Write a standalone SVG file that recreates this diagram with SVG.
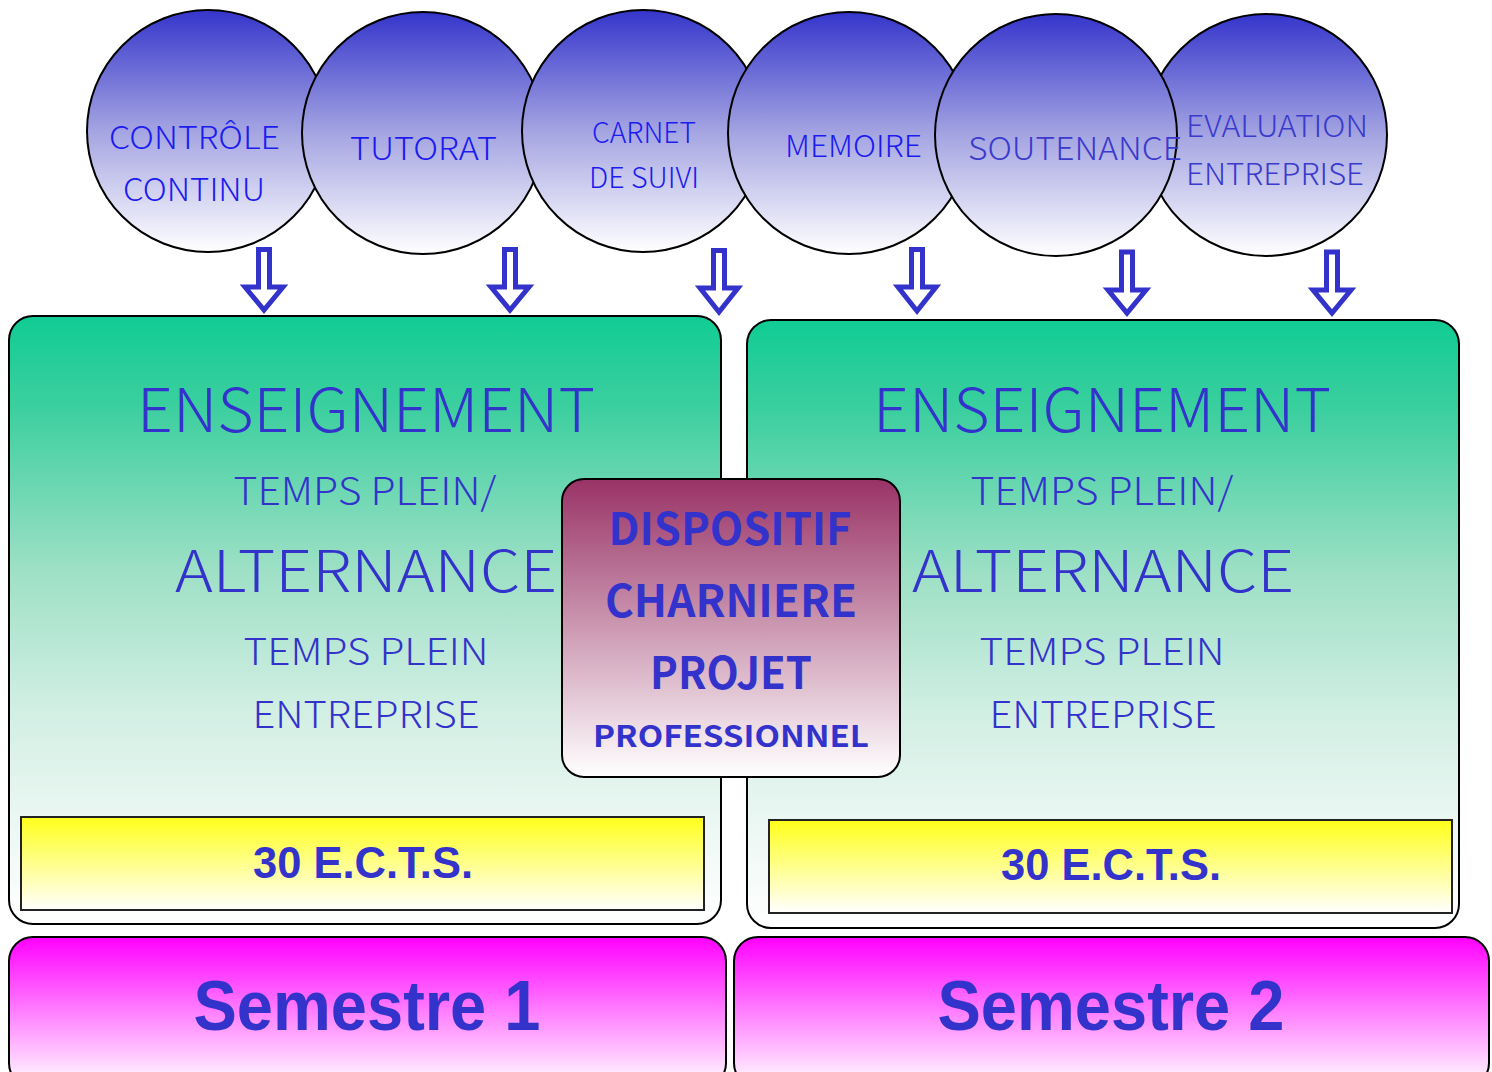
<svg xmlns="http://www.w3.org/2000/svg" width="1492" height="1072" viewBox="0 0 1492 1072">
<defs>
<linearGradient id="gCirc" x1="0" y1="0" x2="0" y2="1"><stop offset="0" stop-color="#3535cc"/><stop offset="0.5" stop-color="#a4a4e2"/><stop offset="1" stop-color="#ffffff"/></linearGradient>
<linearGradient id="gGreen" x1="0" y1="0" x2="0" y2="1"><stop offset="0" stop-color="#10cc94"/><stop offset="0.15" stop-color="#3ccf9f"/><stop offset="0.42" stop-color="#9ee0c6"/><stop offset="0.65" stop-color="#d2efe4"/><stop offset="0.85" stop-color="#eef8f4"/><stop offset="1" stop-color="#ffffff"/></linearGradient>
<linearGradient id="gYellow" x1="0" y1="0" x2="0" y2="1"><stop offset="0" stop-color="#ffff1a"/><stop offset="1" stop-color="#ffffff"/></linearGradient>
<linearGradient id="gMag" x1="0" y1="0" x2="0" y2="1"><stop offset="0" stop-color="#ff00ff"/><stop offset="1" stop-color="#ffffff"/></linearGradient>
<linearGradient id="gMaroon" x1="0" y1="0" x2="0" y2="1"><stop offset="0" stop-color="#993366"/><stop offset="1" stop-color="#ffffff"/></linearGradient>
</defs>
<style>
.circ{fill:url(#gCirc);stroke:#000;stroke-width:2}
.ct{font-family:"Noto Sans CJK JP","Noto Sans",sans-serif;font-weight:300;fill:#1c1cf0;text-anchor:middle}
.ct2{font-family:"Noto Sans CJK JP","Noto Sans",sans-serif;font-weight:300;fill:#3a3acc}
.box{fill:url(#gGreen);stroke:#000;stroke-width:2}
.bt{font-family:"Noto Sans CJK JP","Noto Sans",sans-serif;font-weight:300;fill:#3333cc;text-anchor:middle}
.ects{fill:url(#gYellow);stroke:#222;stroke-width:2}
.et{font-family:"Liberation Sans Narrow","Liberation Sans",sans-serif;font-weight:bold;fill:#3333cc;text-anchor:middle}
.sem{fill:url(#gMag);stroke:#000;stroke-width:2}
.ch{fill:url(#gMaroon);stroke:#000;stroke-width:2}
.cht{font-family:"Noto Sans CJK JP","Noto Sans",sans-serif;font-weight:bold;fill:#3333cc;text-anchor:middle}
.arr{fill:#fff;stroke:#3333cc;stroke-width:5;stroke-linejoin:miter}
</style>
<rect width="1492" height="1072" fill="#fff"/>

<g id="semestre1">
<rect class="sem" x="9" y="937" width="717" height="150" rx="24"/>
<text class="et" x="367" y="1030" font-size="70" textLength="347" lengthAdjust="spacingAndGlyphs">Semestre 1</text>
</g>
<g id="semestre2">
<rect class="sem" x="734" y="937" width="755" height="150" rx="24"/>
<text class="et" x="1111" y="1030" font-size="70" textLength="347" lengthAdjust="spacingAndGlyphs">Semestre 2</text>
</g>

<g id="enseignement1">
<rect class="box" x="9" y="316" width="712" height="608" rx="24"/>
<text class="bt" x="366" y="432" font-size="60" textLength="458" lengthAdjust="spacingAndGlyphs">ENSEIGNEMENT</text>
<text class="bt" x="365" y="505" font-size="38" textLength="263" lengthAdjust="spacingAndGlyphs">TEMPS PLEIN/</text>
<text class="bt" x="366" y="592" font-size="57" textLength="382" lengthAdjust="spacingAndGlyphs">ALTERNANCE</text>
<text class="bt" x="366" y="665" font-size="37" textLength="245" lengthAdjust="spacingAndGlyphs">TEMPS PLEIN</text>
<text class="bt" x="366" y="728" font-size="37" textLength="227" lengthAdjust="spacingAndGlyphs">ENTREPRISE</text>
</g>
<g id="ects1">
<rect class="ects" x="21" y="817" width="683" height="93"/>
<text class="et" x="363" y="878" font-size="44" textLength="220" lengthAdjust="spacingAndGlyphs">30 E.C.T.S.</text>
</g>

<g id="enseignement2">
<rect class="box" x="747" y="320" width="712" height="608" rx="24"/>
<text class="bt" x="1102" y="432" font-size="60" textLength="458" lengthAdjust="spacingAndGlyphs">ENSEIGNEMENT</text>
<text class="bt" x="1102" y="505" font-size="38" textLength="263" lengthAdjust="spacingAndGlyphs">TEMPS PLEIN/</text>
<text class="bt" x="1103" y="592" font-size="57" textLength="382" lengthAdjust="spacingAndGlyphs">ALTERNANCE</text>
<text class="bt" x="1102" y="665" font-size="37" textLength="245" lengthAdjust="spacingAndGlyphs">TEMPS PLEIN</text>
<text class="bt" x="1103" y="728" font-size="37" textLength="227" lengthAdjust="spacingAndGlyphs">ENTREPRISE</text>
</g>
<g id="ects2">
<rect class="ects" x="769" y="820" width="683" height="93"/>
<text class="et" x="1111" y="880" font-size="44" textLength="220" lengthAdjust="spacingAndGlyphs">30 E.C.T.S.</text>
</g>

<g id="charniere">
<rect class="ch" x="562" y="479" width="338" height="298" rx="22"/>
<text class="cht" x="730" y="545" font-size="44" textLength="243" lengthAdjust="spacingAndGlyphs">DISPOSITIF</text>
<text class="cht" x="731" y="617" font-size="44" textLength="252" lengthAdjust="spacingAndGlyphs">CHARNIERE</text>
<text class="cht" x="731" y="689" font-size="44" textLength="162" lengthAdjust="spacingAndGlyphs">PROJET</text>
<text class="cht" x="731" y="747" font-size="30" textLength="276" lengthAdjust="spacingAndGlyphs">PROFESSIONNEL</text>
</g>

<g id="controle">
<circle class="circ" cx="208" cy="131" r="121"/>
<text class="ct" x="194.5" y="149" font-size="31" textLength="171" lengthAdjust="spacingAndGlyphs">CONTRÔLE</text>
<text class="ct" x="194" y="201" font-size="31" textLength="142" lengthAdjust="spacingAndGlyphs">CONTINU</text>
</g>
<g id="tutorat">
<circle class="circ" cx="423" cy="133" r="121"/>
<text class="ct" x="423.5" y="160" font-size="32" textLength="147" lengthAdjust="spacingAndGlyphs">TUTORAT</text>
</g>
<g id="carnet">
<circle class="circ" cx="643" cy="131" r="121"/>
<text class="ct" x="644" y="143" font-size="28" textLength="104" lengthAdjust="spacingAndGlyphs">CARNET</text>
<text class="ct" x="644" y="188" font-size="28" textLength="110" lengthAdjust="spacingAndGlyphs">DE SUIVI</text>
</g>
<g id="memoire">
<circle class="circ" cx="849" cy="133" r="121"/>
<text class="ct" x="853.5" y="157" font-size="30" textLength="137" lengthAdjust="spacingAndGlyphs">MEMOIRE</text>
</g>
<g id="evaluation">
<circle class="circ" cx="1266" cy="135" r="121"/>
<text class="ct2" x="1186" y="137" font-size="30" textLength="182" lengthAdjust="spacingAndGlyphs">EVALUATION</text>
<text class="ct2" x="1186" y="185" font-size="30" textLength="178" lengthAdjust="spacingAndGlyphs">ENTREPRISE</text>
</g>
<g id="soutenance">
<circle class="circ" cx="1056" cy="135" r="121"/>
<text class="ct2" x="968" y="160" font-size="32" textLength="214" lengthAdjust="spacingAndGlyphs">SOUTENANCE</text>
</g>

<g id="connectors">
<path class="arr" d="M258.5,249.5 H269.5 V287 H283 L264,310 L245,287 H258.5 Z"/>
<path class="arr" d="M504.5,249.5 H515.5 V287 H529 L510,310 L491,287 H504.5 Z"/>
<path class="arr" d="M713.5,250.5 H724.5 V288 H738 L719,312 L700,288 H713.5 Z"/>
<path class="arr" d="M911.5,249.5 H922.5 V287 H936 L917,311 L898,287 H911.5 Z"/>
<path class="arr" d="M1121.5,252 H1132.5 V290 H1146 L1127,313 L1108,290 H1121.5 Z"/>
<path class="arr" d="M1326.5,252 H1337.5 V290 H1351 L1332,313 L1313,290 H1326.5 Z"/>
</g>
</svg>
